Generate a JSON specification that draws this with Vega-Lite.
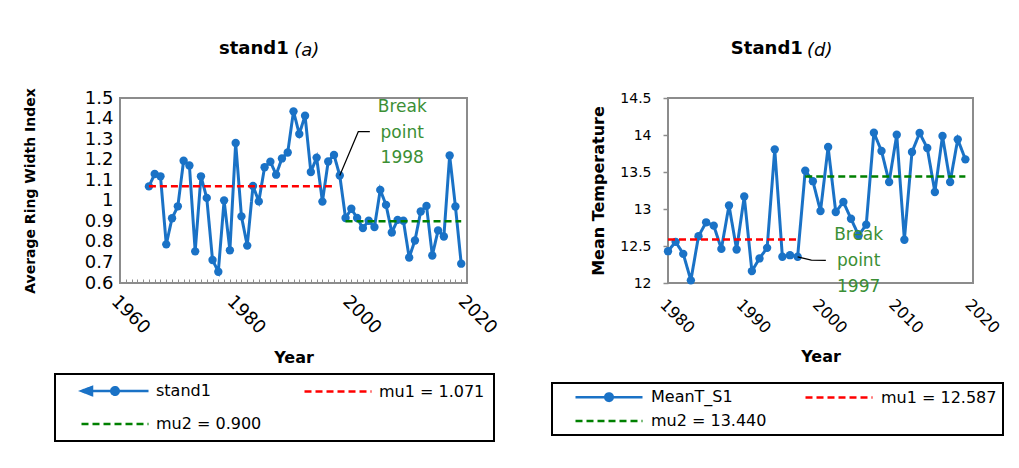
{
  "$schema": "https://vega.github.io/schema/vega-lite/v6.json",
  "background": "white",
  "autosize": {"type": "none"},
  "padding": {"left": 120, "top": 98, "right": 899, "bottom": 185},
  "bounds": "flush",
  "spacing": 201,
  "config": {
    "font": "DejaVu Sans",
    "view": {"stroke": "#8c8c8c", "strokeWidth": 2},
    "axis": {"grid": false, "domain": false, "labelOverlap": false, "tickCount": 100, "labelColor": "black", "titleColor": "black", "labelFont": "DejaVu Sans", "titleFont": "DejaVu Sans"},
    "legend": {"labelFont": "DejaVu Sans", "labelColor": "black", "strokeWidth": 2}
  },
  "datasets": {
    "stand1": [
      {"year": 1965, "value": 1.070, "series": "stand1"},
      {"year": 1966, "value": 1.130, "series": "stand1"},
      {"year": 1967, "value": 1.119, "series": "stand1"},
      {"year": 1968, "value": 0.788, "series": "stand1"},
      {"year": 1969, "value": 0.915, "series": "stand1"},
      {"year": 1970, "value": 0.973, "series": "stand1"},
      {"year": 1971, "value": 1.195, "series": "stand1"},
      {"year": 1972, "value": 1.172, "series": "stand1"},
      {"year": 1973, "value": 0.754, "series": "stand1"},
      {"year": 1974, "value": 1.119, "series": "stand1"},
      {"year": 1975, "value": 1.014, "series": "stand1"},
      {"year": 1976, "value": 0.712, "series": "stand1"},
      {"year": 1977, "value": 0.655, "series": "stand1"},
      {"year": 1978, "value": 1.002, "series": "stand1"},
      {"year": 1979, "value": 0.759, "series": "stand1"},
      {"year": 1980, "value": 1.281, "series": "stand1"},
      {"year": 1981, "value": 0.924, "series": "stand1"},
      {"year": 1982, "value": 0.782, "series": "stand1"},
      {"year": 1983, "value": 1.072, "series": "stand1"},
      {"year": 1984, "value": 0.997, "series": "stand1"},
      {"year": 1985, "value": 1.163, "series": "stand1"},
      {"year": 1986, "value": 1.190, "series": "stand1"},
      {"year": 1987, "value": 1.127, "series": "stand1"},
      {"year": 1988, "value": 1.206, "series": "stand1"},
      {"year": 1989, "value": 1.235, "series": "stand1"},
      {"year": 1990, "value": 1.435, "series": "stand1"},
      {"year": 1991, "value": 1.325, "series": "stand1"},
      {"year": 1992, "value": 1.414, "series": "stand1"},
      {"year": 1993, "value": 1.140, "series": "stand1"},
      {"year": 1994, "value": 1.210, "series": "stand1"},
      {"year": 1995, "value": 0.996, "series": "stand1"},
      {"year": 1996, "value": 1.191, "series": "stand1"},
      {"year": 1997, "value": 1.223, "series": "stand1"},
      {"year": 1998, "value": 1.123, "series": "stand1"},
      {"year": 1999, "value": 0.916, "series": "stand1"},
      {"year": 2000, "value": 0.961, "series": "stand1"},
      {"year": 2001, "value": 0.916, "series": "stand1"},
      {"year": 2002, "value": 0.867, "series": "stand1"},
      {"year": 2003, "value": 0.903, "series": "stand1"},
      {"year": 2004, "value": 0.872, "series": "stand1"},
      {"year": 2005, "value": 1.053, "series": "stand1"},
      {"year": 2006, "value": 0.980, "series": "stand1"},
      {"year": 2007, "value": 0.846, "series": "stand1"},
      {"year": 2008, "value": 0.907, "series": "stand1"},
      {"year": 2009, "value": 0.903, "series": "stand1"},
      {"year": 2010, "value": 0.724, "series": "stand1"},
      {"year": 2011, "value": 0.807, "series": "stand1"},
      {"year": 2012, "value": 0.948, "series": "stand1"},
      {"year": 2013, "value": 0.975, "series": "stand1"},
      {"year": 2014, "value": 0.734, "series": "stand1"},
      {"year": 2015, "value": 0.856, "series": "stand1"},
      {"year": 2016, "value": 0.826, "series": "stand1"},
      {"year": 2017, "value": 1.220, "series": "stand1"},
      {"year": 2018, "value": 0.972, "series": "stand1"},
      {"year": 2019, "value": 0.694, "series": "stand1"}
    ],
    "mu_a": [
      {"year": 1965, "value": 1.071, "series": "mu1 = 1.071"},
      {"year": 1997, "value": 1.071, "series": "mu1 = 1.071"},
      {"year": 1999, "value": 0.900, "series": "mu2 = 0.900"},
      {"year": 2019, "value": 0.900, "series": "mu2 = 0.900"}
    ],
    "lead_a": [
      {"year": 1998, "value": 1.123},
      {"year": 2001.2, "value": 1.336},
      {"year": 2003.2, "value": 1.336}
    ],
    "ann_a": [
      {"year": 2008.8, "value": 1.458, "text": "Break"},
      {"year": 2008.8, "value": 1.329, "text": "point"},
      {"year": 2008.8, "value": 1.207, "text": "1998"}
    ],
    "meanT": [
      {"year": 1980, "value": 12.430, "series": "MeanT_S1"},
      {"year": 1981, "value": 12.556, "series": "MeanT_S1"},
      {"year": 1982, "value": 12.394, "series": "MeanT_S1"},
      {"year": 1983, "value": 12.036, "series": "MeanT_S1"},
      {"year": 1984, "value": 12.632, "series": "MeanT_S1"},
      {"year": 1985, "value": 12.820, "series": "MeanT_S1"},
      {"year": 1986, "value": 12.775, "series": "MeanT_S1"},
      {"year": 1987, "value": 12.461, "series": "MeanT_S1"},
      {"year": 1988, "value": 13.048, "series": "MeanT_S1"},
      {"year": 1989, "value": 12.452, "series": "MeanT_S1"},
      {"year": 1990, "value": 13.169, "series": "MeanT_S1"},
      {"year": 1991, "value": 12.161, "series": "MeanT_S1"},
      {"year": 1992, "value": 12.332, "series": "MeanT_S1"},
      {"year": 1993, "value": 12.475, "series": "MeanT_S1"},
      {"year": 1994, "value": 13.806, "series": "MeanT_S1"},
      {"year": 1995, "value": 12.354, "series": "MeanT_S1"},
      {"year": 1996, "value": 12.376, "series": "MeanT_S1"},
      {"year": 1997, "value": 12.354, "series": "MeanT_S1"},
      {"year": 1998, "value": 13.519, "series": "MeanT_S1"},
      {"year": 1999, "value": 13.376, "series": "MeanT_S1"},
      {"year": 2000, "value": 12.972, "series": "MeanT_S1"},
      {"year": 2001, "value": 13.838, "series": "MeanT_S1"},
      {"year": 2002, "value": 12.959, "series": "MeanT_S1"},
      {"year": 2003, "value": 13.095, "series": "MeanT_S1"},
      {"year": 2004, "value": 12.869, "series": "MeanT_S1"},
      {"year": 2005, "value": 12.643, "series": "MeanT_S1"},
      {"year": 2006, "value": 12.788, "series": "MeanT_S1"},
      {"year": 2007, "value": 14.031, "series": "MeanT_S1"},
      {"year": 2008, "value": 13.784, "series": "MeanT_S1"},
      {"year": 2009, "value": 13.365, "series": "MeanT_S1"},
      {"year": 2010, "value": 14.004, "series": "MeanT_S1"},
      {"year": 2011, "value": 12.585, "series": "MeanT_S1"},
      {"year": 2012, "value": 13.770, "series": "MeanT_S1"},
      {"year": 2013, "value": 14.027, "series": "MeanT_S1"},
      {"year": 2014, "value": 13.824, "series": "MeanT_S1"},
      {"year": 2015, "value": 13.230, "series": "MeanT_S1"},
      {"year": 2016, "value": 13.986, "series": "MeanT_S1"},
      {"year": 2017, "value": 13.365, "series": "MeanT_S1"},
      {"year": 2018, "value": 13.941, "series": "MeanT_S1"},
      {"year": 2019, "value": 13.671, "series": "MeanT_S1"}
    ],
    "mu_d": [
      {"year": 1980, "value": 12.587, "series": "mu1 = 12.587"},
      {"year": 1997, "value": 12.587, "series": "mu1 = 12.587"},
      {"year": 1998, "value": 13.440, "series": "mu2 = 13.440"},
      {"year": 2019, "value": 13.440, "series": "mu2 = 13.440"}
    ],
    "lead_d": [
      {"year": 1997, "value": 12.354},
      {"year": 1998.8, "value": 12.31},
      {"year": 2000.7, "value": 12.305}
    ],
    "ann_d": [
      {"year": 2005.0, "value": 12.643, "text": "Break"},
      {"year": 2005.0, "value": 12.292, "text": "point"},
      {"year": 2005.0, "value": 11.946, "text": "1997"}
    ]
  },
  "resolve": {"scale": {"color": "independent", "strokeDash": "independent", "shape": "independent", "x": "independent", "y": "independent"}, "legend": {"color": "independent", "strokeDash": "independent", "shape": "independent"}},
  "hconcat": [
    {
      "width": 347,
      "height": 185,
      "title": {
        "text": "stand1\u00a0\u00a0\u00a0\u00a0\u00a0\u200b",
        "subtitle": "\u200b\u00a0\u00a0\u00a0\u00a0\u00a0\u00a0\u00a0\u00a0\u00a0\u00a0\u00a0\u00a0\u00a0(a)",
        "anchor": "middle", "frame": "group", "dx": -24,
        "fontSize": 18, "fontWeight": "bold", "color": "black",
        "subtitleFontSize": 18, "subtitleFontStyle": "italic", "subtitleFontWeight": "normal", "subtitleColor": "black",
        "subtitlePadding": -16, "offset": 28
      },
      "layer": [
        {
          "data": {"name": "stand1"},
          "mark": {"type": "point", "opacity": 0, "filled": true, "color": "#1a72c6"},
          "encoding": {
            "x": {"field": "year", "type": "quantitative"},
            "y": {"field": "value", "type": "quantitative"},
            "shape": {"field": "series", "type": "nominal",
              "scale": {"domain": ["stand1", "mu1 = 1.071", "mu2 = 0.900"], "range": ["M-6.7,0H6.7M0.75,0A0.75,0.75,0,1,1,-0.75,0A0.75,0.75,0,1,1,0.75,0M-6.7,0L-4.6,-0.8L-4.6,0.8Z", "M-6.7,0H6.7", "M-6.7,0H6.7"]},
              "legend": {
                "title": null, "orient": "none", "legendX": -65, "legendY": 276,
                "direction": "horizontal", "columns": 2,
                "padding": 9, "rowPadding": 16, "columnPadding": 25,
                "strokeColor": "black", "symbolFillColor": "#1a72c6", "symbolOpacity": 1,
                "symbolSize": 100, "symbolStrokeWidth": 2.5, "symbolOffset": 43, "labelOffset": 33,
                "labelFontSize": 16, "labelBaseline": "middle"
              }}
          }
        },
        {
          "data": {"name": "stand1"},
          "mark": {"type": "line", "strokeWidth": 3, "point": {"filled": true, "size": 70}},
          "encoding": {
            "x": {"field": "year", "type": "quantitative",
              "scale": {"domain": [1960, 2020], "nice": false, "zero": false},
              "axis": {"values": [1960,1961,1962,1963,1964,1965,1966,1967,1968,1969,1970,1971,1972,1973,1974,1975,1976,1977,1978,1979,1980,1981,1982,1983,1984,1985,1986,1987,1988,1989,1990,1991,1992,1993,1994,1995,1996,1997,1998,1999,2000,2001,2002,2003,2004,2005,2006,2007,2008,2009,2010,2011,2012,2013,2014,2015,2016,2017,2018,2019,2020],
                "tickCount": 100,
                "format": "d", "labelExpr": "datum.value % 20 === 0 ? datum.label : ''",
                "labelAngle": 45, "labelAlign": "left", "labelBaseline": "top",
                "labelFontSize": 18, "labelPadding": 13, "labelOverlap": false, "labelFlush": false,
                "tickSize": -4, "tickColor": "#8c8c8c", "tickWidth": 1,
                "title": "Year", "titleFontSize": 16, "titleFontWeight": "bold", "titlePadding": 12}},
            "y": {"field": "value", "type": "quantitative",
              "scale": {"domain": [0.6, 1.5], "nice": false, "zero": false},
              "axis": {"values": [0.6,0.7,0.8,0.9,1,1.1,1.2,1.3,1.4,1.5], "tickCount": 100, "format": ".1~f",
                "ticks": false, "labelPadding": 7, "labelFontSize": 18, "labelOverlap": false,
                "title": "Average Ring Width Index", "titleFontSize": 14, "titleFontWeight": "bold", "titlePadding": 47}},
            "color": {"field": "series", "type": "nominal",
              "scale": {"domain": ["stand1", "mu1 = 1.071", "mu2 = 0.900"], "range": ["#1a72c6", "#ff0000", "#008000"]},
              "legend": {
                "title": null, "orient": "none", "legendX": -65, "legendY": 276,
                "direction": "horizontal", "columns": 2,
                "padding": 9, "rowPadding": 16, "columnPadding": 25,
                "strokeColor": "black", "symbolFillColor": "#1a72c6", "symbolOpacity": 1,
                "symbolSize": 100, "symbolStrokeWidth": 2.5, "symbolOffset": 43, "labelOffset": 33,
                "labelFontSize": 16, "labelBaseline": "middle"
              }},
            "strokeDash": {"field": "series", "type": "nominal",
              "scale": {"domain": ["stand1", "mu1 = 1.071", "mu2 = 0.900"], "range": [[1, 0], [7, 4], [7, 4]]},
              "legend": {
                "title": null, "orient": "none", "legendX": -65, "legendY": 276,
                "direction": "horizontal", "columns": 2,
                "padding": 9, "rowPadding": 16, "columnPadding": 25,
                "strokeColor": "black", "symbolFillColor": "#1a72c6", "symbolOpacity": 1,
                "symbolSize": 100, "symbolStrokeWidth": 2.5, "symbolOffset": 43, "labelOffset": 33,
                "labelFontSize": 16, "labelBaseline": "middle"
              }}
          }
        },
        {
          "data": {"name": "mu_a"},
          "mark": {"type": "line", "strokeWidth": 2.5},
          "encoding": {
            "x": {"field": "year", "type": "quantitative"},
            "y": {"field": "value", "type": "quantitative"},
            "color": {"field": "series", "type": "nominal"},
            "strokeDash": {"field": "series", "type": "nominal"}
          }
        },
        {
          "data": {"name": "lead_a"},
          "mark": {"type": "line", "color": "black", "strokeWidth": 1.2},
          "encoding": {
            "x": {"field": "year", "type": "quantitative"},
            "y": {"field": "value", "type": "quantitative"}
          }
        },
        {
          "data": {"name": "ann_a"},
          "mark": {"type": "text", "color": "#3b8f35", "fontSize": 17, "align": "center", "baseline": "middle"},
          "encoding": {
            "x": {"field": "year", "type": "quantitative"},
            "y": {"field": "value", "type": "quantitative"},
            "text": {"field": "text"}
          }
        }
      ]
    },
    {
      "width": 305,
      "height": 185,
      "title": {
        "text": "Stand1\u00a0\u00a0\u00a0\u00a0\u00a0\u200b",
        "subtitle": "\u200b\u00a0\u00a0\u00a0\u00a0\u00a0\u00a0\u00a0\u00a0\u00a0\u00a0\u00a0\u00a0\u00a0(d)",
        "anchor": "middle", "frame": "group", "dx": -38,
        "fontSize": 18, "fontWeight": "bold", "color": "black",
        "subtitleFontSize": 18, "subtitleFontStyle": "italic", "subtitleFontWeight": "normal", "subtitleColor": "black",
        "subtitlePadding": -16, "offset": 31
      },
      "layer": [
        {
          "data": {"name": "meanT"},
          "mark": {"type": "point", "opacity": 0, "filled": true, "color": "#1a72c6"},
          "encoding": {
            "x": {"field": "year", "type": "quantitative"},
            "y": {"field": "value", "type": "quantitative"},
            "shape": {"field": "series", "type": "nominal",
              "scale": {"domain": ["MeanT_S1", "mu1 = 12.587", "mu2 = 13.440"], "range": ["M-6.7,0H6.7M0.75,0A0.75,0.75,0,1,1,-0.75,0A0.75,0.75,0,1,1,0.75,0", "M-6.7,0H6.7", "M-6.7,0H6.7"]},
              "legend": {
                "title": null, "orient": "none", "legendX": -116, "legendY": 285,
                "direction": "horizontal", "columns": 2,
                "padding": 6, "rowPadding": 7, "columnPadding": 21,
                "strokeColor": "black", "symbolFillColor": "#1a72c6", "symbolOpacity": 1,
                "symbolSize": 100, "symbolStrokeWidth": 2.5, "symbolOffset": 43, "labelOffset": 34,
                "labelFontSize": 16, "labelBaseline": "middle"
              }}
          }
        },
        {
          "data": {"name": "meanT"},
          "mark": {"type": "line", "strokeWidth": 3, "point": {"filled": true, "size": 70}},
          "encoding": {
            "x": {"field": "year", "type": "quantitative",
              "scale": {"domain": [1980, 2020], "nice": false, "zero": false},
              "axis": {"values": [1980, 1990, 2000, 2010, 2020], "tickCount": 100, "format": "d",
                "labelAngle": 45, "labelAlign": "left", "labelBaseline": "top",
                "labelFontSize": 16, "labelPadding": 13, "labelOverlap": false, "labelFlush": false,
                "ticks": false,
                "title": "Year", "titleFontSize": 16, "titleFontWeight": "bold", "titlePadding": 12}},
            "y": {"field": "value", "type": "quantitative",
              "scale": {"domain": [12, 14.5], "nice": false, "zero": false},
              "axis": {"values": [12, 12.5, 13, 13.5, 14, 14.5], "tickCount": 100, "format": ".1~f",
                "ticks": true, "tickSize": 5, "tickColor": "#8c8c8c", "tickWidth": 1.5,
                "labelPadding": 12, "labelFontSize": 14, "labelOverlap": false,
                "title": "Mean Temperature", "titleFontSize": 16, "titleFontWeight": "bold", "titlePadding": 13}},
            "color": {"field": "series", "type": "nominal",
              "scale": {"domain": ["MeanT_S1", "mu1 = 12.587", "mu2 = 13.440"], "range": ["#1a72c6", "#ff0000", "#008000"]},
              "legend": {
                "title": null, "orient": "none", "legendX": -116, "legendY": 285,
                "direction": "horizontal", "columns": 2,
                "padding": 6, "rowPadding": 7, "columnPadding": 21,
                "strokeColor": "black", "symbolFillColor": "#1a72c6", "symbolOpacity": 1,
                "symbolSize": 100, "symbolStrokeWidth": 2.5, "symbolOffset": 43, "labelOffset": 34,
                "labelFontSize": 16, "labelBaseline": "middle"
              }},
            "strokeDash": {"field": "series", "type": "nominal",
              "scale": {"domain": ["MeanT_S1", "mu1 = 12.587", "mu2 = 13.440"], "range": [[1, 0], [7, 4], [7, 4]]},
              "legend": {
                "title": null, "orient": "none", "legendX": -116, "legendY": 285,
                "direction": "horizontal", "columns": 2,
                "padding": 6, "rowPadding": 7, "columnPadding": 21,
                "strokeColor": "black", "symbolFillColor": "#1a72c6", "symbolOpacity": 1,
                "symbolSize": 100, "symbolStrokeWidth": 2.5, "symbolOffset": 43, "labelOffset": 34,
                "labelFontSize": 16, "labelBaseline": "middle"
              }}
          }
        },
        {
          "data": {"name": "mu_d"},
          "mark": {"type": "line", "strokeWidth": 2.5},
          "encoding": {
            "x": {"field": "year", "type": "quantitative"},
            "y": {"field": "value", "type": "quantitative"},
            "color": {"field": "series", "type": "nominal"},
            "strokeDash": {"field": "series", "type": "nominal"}
          }
        },
        {
          "data": {"name": "lead_d"},
          "mark": {"type": "line", "color": "black", "strokeWidth": 1.2},
          "encoding": {
            "x": {"field": "year", "type": "quantitative"},
            "y": {"field": "value", "type": "quantitative"}
          }
        },
        {
          "data": {"name": "ann_d"},
          "mark": {"type": "text", "color": "#3b8f35", "fontSize": 17, "align": "center", "baseline": "middle"},
          "encoding": {
            "x": {"field": "year", "type": "quantitative"},
            "y": {"field": "value", "type": "quantitative"},
            "text": {"field": "text"}
          }
        }
      ]
    }
  ]
}
